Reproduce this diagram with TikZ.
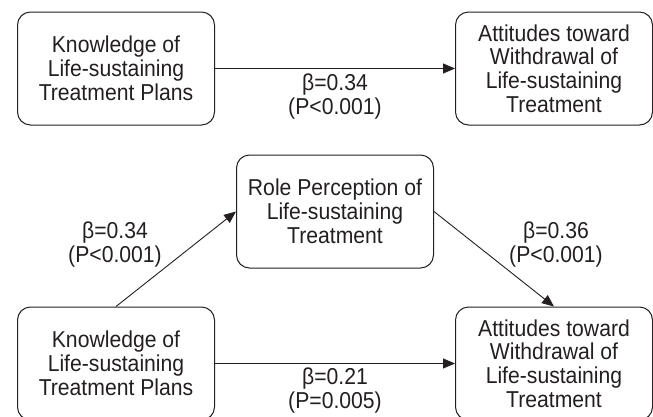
\documentclass[tikz,border=0pt]{standalone}
\usepackage{fontspec}
\setmainfont[FakeStretch=0.92]{Liberation Sans}
\usetikzlibrary{arrows.meta}
\definecolor{ink}{HTML}{231F20}
\begin{document}
\begin{tikzpicture}[x=1pt,y=-1pt,
  varbox/.style={draw=ink, line width=1pt, rounded corners=13pt,
    minimum width=197pt, minimum height=113pt, align=center,
    text=ink, font=\fontsize{23}{23.8}\selectfont},
  coef/.style={align=center, text=ink, font=\fontsize{23}{24}\selectfont},
  path/.style={draw=ink, line width=0.9pt, -{Triangle[length=12pt,width=10pt]}}]
\useasboundingbox (0,0) rectangle (653,416);

\node[varbox] (k1) at (116,68.5) {Knowledge of\\Life-sustaining\\Treatment Plans};
\node[varbox] (a1) at (554,68.5) {Attitudes toward\\Withdrawal of\\Life-sustaining\\Treatment};
\node[varbox] (r) at (335,211.5) {Role Perception of\\Life-sustaining\\Treatment};
\node[varbox] (k2) at (116,363.5) {Knowledge of\\Life-sustaining\\Treatment Plans};
\node[varbox] (a2) at (554,363.5) {Attitudes toward\\Withdrawal of\\Life-sustaining\\Treatment};

\path[path] (k1) -- (a1);
\path[path] (k2.north) -- (r.west);
\path[path] (r.east) -- (a2.north);
\path[path] (k2) -- (a2);

\node[coef] (c1) at (335,97) {β=0.34\\(P<0.001)};
\node[coef] (c2) at (115,245) {β=0.34\\(P<0.001)};
\node[coef] (c3) at (556,245) {β=0.36\\(P<0.001)};
\node[coef] (c4) at (335,391) {β=0.21\\(P=0.005)};
\end{tikzpicture}
\end{document}
